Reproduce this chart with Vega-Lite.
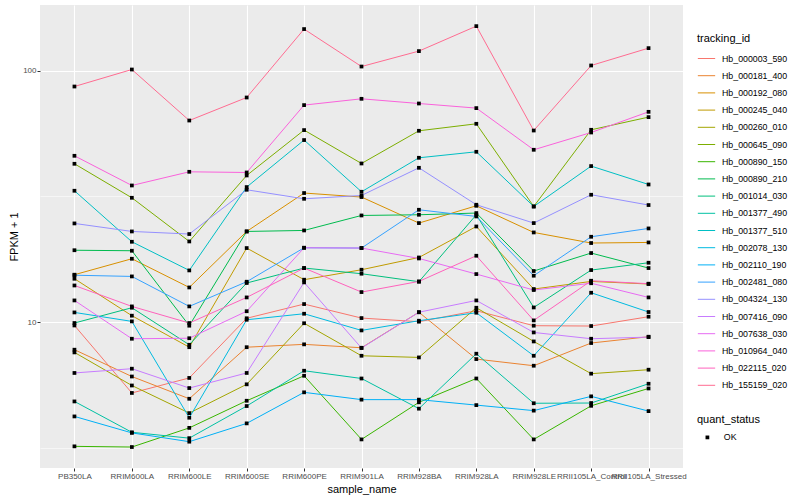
{
"$schema": "https://vega.github.io/schema/vega-lite/v6.json",
"width": 643,
"height": 463,
"autosize": {"type": "none"},
"padding": {"left": 40, "top": 5, "right": 117, "bottom": 32},
"background": "white",
"data": {"values": [
{"tracking_id":"Hb_000003_590","sample_name":"PB350LA","fpkm":9.69,"quant_status":"OK"},
{"tracking_id":"Hb_000003_590","sample_name":"RRIM600LA","fpkm":5.22,"quant_status":"OK"},
{"tracking_id":"Hb_000003_590","sample_name":"RRIM600LE","fpkm":5.99,"quant_status":"OK"},
{"tracking_id":"Hb_000003_590","sample_name":"RRIM600SE","fpkm":10.35,"quant_status":"OK"},
{"tracking_id":"Hb_000003_590","sample_name":"RRIM600PE","fpkm":11.79,"quant_status":"OK"},
{"tracking_id":"Hb_000003_590","sample_name":"RRIM901LA","fpkm":10.37,"quant_status":"OK"},
{"tracking_id":"Hb_000003_590","sample_name":"RRIM928BA","fpkm":10.03,"quant_status":"OK"},
{"tracking_id":"Hb_000003_590","sample_name":"RRIM928LA","fpkm":11.09,"quant_status":"OK"},
{"tracking_id":"Hb_000003_590","sample_name":"RRIM928LE","fpkm":9.67,"quant_status":"OK"},
{"tracking_id":"Hb_000003_590","sample_name":"RRII105LA_Control","fpkm":9.64,"quant_status":"OK"},
{"tracking_id":"Hb_000003_590","sample_name":"RRII105LA_Stressed","fpkm":10.50,"quant_status":"OK"},
{"tracking_id":"Hb_000181_400","sample_name":"PB350LA","fpkm":7.76,"quant_status":"OK"},
{"tracking_id":"Hb_000181_400","sample_name":"RRIM600LA","fpkm":6.07,"quant_status":"OK"},
{"tracking_id":"Hb_000181_400","sample_name":"RRIM600LE","fpkm":4.95,"quant_status":"OK"},
{"tracking_id":"Hb_000181_400","sample_name":"RRIM600SE","fpkm":7.94,"quant_status":"OK"},
{"tracking_id":"Hb_000181_400","sample_name":"RRIM600PE","fpkm":8.15,"quant_status":"OK"},
{"tracking_id":"Hb_000181_400","sample_name":"RRIM901LA","fpkm":7.90,"quant_status":"OK"},
{"tracking_id":"Hb_000181_400","sample_name":"RRIM928BA","fpkm":10.94,"quant_status":"OK"},
{"tracking_id":"Hb_000181_400","sample_name":"RRIM928LA","fpkm":7.12,"quant_status":"OK"},
{"tracking_id":"Hb_000181_400","sample_name":"RRIM928LE","fpkm":6.70,"quant_status":"OK"},
{"tracking_id":"Hb_000181_400","sample_name":"RRII105LA_Control","fpkm":8.25,"quant_status":"OK"},
{"tracking_id":"Hb_000181_400","sample_name":"RRII105LA_Stressed","fpkm":8.74,"quant_status":"OK"},
{"tracking_id":"Hb_000192_080","sample_name":"PB350LA","fpkm":15.43,"quant_status":"OK"},
{"tracking_id":"Hb_000192_080","sample_name":"RRIM600LA","fpkm":17.86,"quant_status":"OK"},
{"tracking_id":"Hb_000192_080","sample_name":"RRIM600LE","fpkm":13.73,"quant_status":"OK"},
{"tracking_id":"Hb_000192_080","sample_name":"RRIM600SE","fpkm":22.94,"quant_status":"OK"},
{"tracking_id":"Hb_000192_080","sample_name":"RRIM600PE","fpkm":32.62,"quant_status":"OK"},
{"tracking_id":"Hb_000192_080","sample_name":"RRIM901LA","fpkm":31.44,"quant_status":"OK"},
{"tracking_id":"Hb_000192_080","sample_name":"RRIM928BA","fpkm":24.77,"quant_status":"OK"},
{"tracking_id":"Hb_000192_080","sample_name":"RRIM928LA","fpkm":29.02,"quant_status":"OK"},
{"tracking_id":"Hb_000192_080","sample_name":"RRIM928LE","fpkm":22.73,"quant_status":"OK"},
{"tracking_id":"Hb_000192_080","sample_name":"RRII105LA_Control","fpkm":20.63,"quant_status":"OK"},
{"tracking_id":"Hb_000192_080","sample_name":"RRII105LA_Stressed","fpkm":20.74,"quant_status":"OK"},
{"tracking_id":"Hb_000245_040","sample_name":"PB350LA","fpkm":14.87,"quant_status":"OK"},
{"tracking_id":"Hb_000245_040","sample_name":"RRIM600LA","fpkm":10.60,"quant_status":"OK"},
{"tracking_id":"Hb_000245_040","sample_name":"RRIM600LE","fpkm":7.94,"quant_status":"OK"},
{"tracking_id":"Hb_000245_040","sample_name":"RRIM600SE","fpkm":19.70,"quant_status":"OK"},
{"tracking_id":"Hb_000245_040","sample_name":"RRIM600PE","fpkm":14.74,"quant_status":"OK"},
{"tracking_id":"Hb_000245_040","sample_name":"RRIM901LA","fpkm":16.15,"quant_status":"OK"},
{"tracking_id":"Hb_000245_040","sample_name":"RRIM928BA","fpkm":18.07,"quant_status":"OK"},
{"tracking_id":"Hb_000245_040","sample_name":"RRIM928LA","fpkm":24.01,"quant_status":"OK"},
{"tracking_id":"Hb_000245_040","sample_name":"RRIM928LE","fpkm":13.53,"quant_status":"OK"},
{"tracking_id":"Hb_000245_040","sample_name":"RRII105LA_Control","fpkm":14.51,"quant_status":"OK"},
{"tracking_id":"Hb_000245_040","sample_name":"RRII105LA_Stressed","fpkm":14.17,"quant_status":"OK"},
{"tracking_id":"Hb_000260_010","sample_name":"PB350LA","fpkm":7.57,"quant_status":"OK"},
{"tracking_id":"Hb_000260_010","sample_name":"RRIM600LA","fpkm":5.59,"quant_status":"OK"},
{"tracking_id":"Hb_000260_010","sample_name":"RRIM600LE","fpkm":4.34,"quant_status":"OK"},
{"tracking_id":"Hb_000260_010","sample_name":"RRIM600SE","fpkm":5.65,"quant_status":"OK"},
{"tracking_id":"Hb_000260_010","sample_name":"RRIM600PE","fpkm":9.89,"quant_status":"OK"},
{"tracking_id":"Hb_000260_010","sample_name":"RRIM901LA","fpkm":7.34,"quant_status":"OK"},
{"tracking_id":"Hb_000260_010","sample_name":"RRIM928BA","fpkm":7.23,"quant_status":"OK"},
{"tracking_id":"Hb_000260_010","sample_name":"RRIM928LA","fpkm":11.40,"quant_status":"OK"},
{"tracking_id":"Hb_000260_010","sample_name":"RRIM928LE","fpkm":8.37,"quant_status":"OK"},
{"tracking_id":"Hb_000260_010","sample_name":"RRII105LA_Control","fpkm":6.23,"quant_status":"OK"},
{"tracking_id":"Hb_000260_010","sample_name":"RRII105LA_Stressed","fpkm":6.46,"quant_status":"OK"},
{"tracking_id":"Hb_000645_090","sample_name":"PB350LA","fpkm":42.65,"quant_status":"OK"},
{"tracking_id":"Hb_000645_090","sample_name":"RRIM600LA","fpkm":31.23,"quant_status":"OK"},
{"tracking_id":"Hb_000645_090","sample_name":"RRIM600LE","fpkm":20.93,"quant_status":"OK"},
{"tracking_id":"Hb_000645_090","sample_name":"RRIM600SE","fpkm":38.32,"quant_status":"OK"},
{"tracking_id":"Hb_000645_090","sample_name":"RRIM600PE","fpkm":58.08,"quant_status":"OK"},
{"tracking_id":"Hb_000645_090","sample_name":"RRIM901LA","fpkm":42.77,"quant_status":"OK"},
{"tracking_id":"Hb_000645_090","sample_name":"RRIM928BA","fpkm":57.71,"quant_status":"OK"},
{"tracking_id":"Hb_000645_090","sample_name":"RRIM928LA","fpkm":61.53,"quant_status":"OK"},
{"tracking_id":"Hb_000645_090","sample_name":"RRIM928LE","fpkm":28.84,"quant_status":"OK"},
{"tracking_id":"Hb_000645_090","sample_name":"RRII105LA_Control","fpkm":58.24,"quant_status":"OK"},
{"tracking_id":"Hb_000645_090","sample_name":"RRII105LA_Stressed","fpkm":65.42,"quant_status":"OK"},
{"tracking_id":"Hb_000890_150","sample_name":"PB350LA","fpkm":3.20,"quant_status":"OK"},
{"tracking_id":"Hb_000890_150","sample_name":"RRIM600LA","fpkm":3.18,"quant_status":"OK"},
{"tracking_id":"Hb_000890_150","sample_name":"RRIM600LE","fpkm":3.79,"quant_status":"OK"},
{"tracking_id":"Hb_000890_150","sample_name":"RRIM600SE","fpkm":4.86,"quant_status":"OK"},
{"tracking_id":"Hb_000890_150","sample_name":"RRIM600PE","fpkm":6.11,"quant_status":"OK"},
{"tracking_id":"Hb_000890_150","sample_name":"RRIM901LA","fpkm":3.41,"quant_status":"OK"},
{"tracking_id":"Hb_000890_150","sample_name":"RRIM928BA","fpkm":4.79,"quant_status":"OK"},
{"tracking_id":"Hb_000890_150","sample_name":"RRIM928LA","fpkm":5.96,"quant_status":"OK"},
{"tracking_id":"Hb_000890_150","sample_name":"RRIM928LE","fpkm":3.41,"quant_status":"OK"},
{"tracking_id":"Hb_000890_150","sample_name":"RRII105LA_Control","fpkm":4.64,"quant_status":"OK"},
{"tracking_id":"Hb_000890_150","sample_name":"RRII105LA_Stressed","fpkm":5.44,"quant_status":"OK"},
{"tracking_id":"Hb_000890_210","sample_name":"PB350LA","fpkm":19.31,"quant_status":"OK"},
{"tracking_id":"Hb_000890_210","sample_name":"RRIM600LA","fpkm":19.22,"quant_status":"OK"},
{"tracking_id":"Hb_000890_210","sample_name":"RRIM600LE","fpkm":9.67,"quant_status":"OK"},
{"tracking_id":"Hb_000890_210","sample_name":"RRIM600SE","fpkm":22.94,"quant_status":"OK"},
{"tracking_id":"Hb_000890_210","sample_name":"RRIM600PE","fpkm":23.15,"quant_status":"OK"},
{"tracking_id":"Hb_000890_210","sample_name":"RRIM901LA","fpkm":26.56,"quant_status":"OK"},
{"tracking_id":"Hb_000890_210","sample_name":"RRIM928BA","fpkm":26.73,"quant_status":"OK"},
{"tracking_id":"Hb_000890_210","sample_name":"RRIM928LA","fpkm":27.15,"quant_status":"OK"},
{"tracking_id":"Hb_000890_210","sample_name":"RRIM928LE","fpkm":15.96,"quant_status":"OK"},
{"tracking_id":"Hb_000890_210","sample_name":"RRII105LA_Control","fpkm":18.82,"quant_status":"OK"},
{"tracking_id":"Hb_000890_210","sample_name":"RRII105LA_Stressed","fpkm":16.40,"quant_status":"OK"},
{"tracking_id":"Hb_001014_030","sample_name":"PB350LA","fpkm":9.91,"quant_status":"OK"},
{"tracking_id":"Hb_001014_030","sample_name":"RRIM600LA","fpkm":11.40,"quant_status":"OK"},
{"tracking_id":"Hb_001014_030","sample_name":"RRIM600LE","fpkm":8.12,"quant_status":"OK"},
{"tracking_id":"Hb_001014_030","sample_name":"RRIM600SE","fpkm":14.30,"quant_status":"OK"},
{"tracking_id":"Hb_001014_030","sample_name":"RRIM600PE","fpkm":16.40,"quant_status":"OK"},
{"tracking_id":"Hb_001014_030","sample_name":"RRIM901LA","fpkm":15.57,"quant_status":"OK"},
{"tracking_id":"Hb_001014_030","sample_name":"RRIM928BA","fpkm":14.47,"quant_status":"OK"},
{"tracking_id":"Hb_001014_030","sample_name":"RRIM928LA","fpkm":26.73,"quant_status":"OK"},
{"tracking_id":"Hb_001014_030","sample_name":"RRIM928LE","fpkm":11.43,"quant_status":"OK"},
{"tracking_id":"Hb_001014_030","sample_name":"RRII105LA_Control","fpkm":16.10,"quant_status":"OK"},
{"tracking_id":"Hb_001014_030","sample_name":"RRII105LA_Stressed","fpkm":17.22,"quant_status":"OK"},
{"tracking_id":"Hb_001377_490","sample_name":"PB350LA","fpkm":4.83,"quant_status":"OK"},
{"tracking_id":"Hb_001377_490","sample_name":"RRIM600LA","fpkm":3.64,"quant_status":"OK"},
{"tracking_id":"Hb_001377_490","sample_name":"RRIM600LE","fpkm":3.45,"quant_status":"OK"},
{"tracking_id":"Hb_001377_490","sample_name":"RRIM600SE","fpkm":4.63,"quant_status":"OK"},
{"tracking_id":"Hb_001377_490","sample_name":"RRIM600PE","fpkm":6.40,"quant_status":"OK"},
{"tracking_id":"Hb_001377_490","sample_name":"RRIM901LA","fpkm":5.96,"quant_status":"OK"},
{"tracking_id":"Hb_001377_490","sample_name":"RRIM928BA","fpkm":4.52,"quant_status":"OK"},
{"tracking_id":"Hb_001377_490","sample_name":"RRIM928LA","fpkm":7.48,"quant_status":"OK"},
{"tracking_id":"Hb_001377_490","sample_name":"RRIM928LE","fpkm":4.75,"quant_status":"OK"},
{"tracking_id":"Hb_001377_490","sample_name":"RRII105LA_Control","fpkm":4.76,"quant_status":"OK"},
{"tracking_id":"Hb_001377_490","sample_name":"RRII105LA_Stressed","fpkm":5.68,"quant_status":"OK"},
{"tracking_id":"Hb_001377_510","sample_name":"PB350LA","fpkm":33.31,"quant_status":"OK"},
{"tracking_id":"Hb_001377_510","sample_name":"RRIM600LA","fpkm":20.87,"quant_status":"OK"},
{"tracking_id":"Hb_001377_510","sample_name":"RRIM600LE","fpkm":16.05,"quant_status":"OK"},
{"tracking_id":"Hb_001377_510","sample_name":"RRIM600SE","fpkm":34.45,"quant_status":"OK"},
{"tracking_id":"Hb_001377_510","sample_name":"RRIM600PE","fpkm":53.01,"quant_status":"OK"},
{"tracking_id":"Hb_001377_510","sample_name":"RRIM901LA","fpkm":33.00,"quant_status":"OK"},
{"tracking_id":"Hb_001377_510","sample_name":"RRIM928BA","fpkm":45.06,"quant_status":"OK"},
{"tracking_id":"Hb_001377_510","sample_name":"RRIM928LA","fpkm":47.61,"quant_status":"OK"},
{"tracking_id":"Hb_001377_510","sample_name":"RRIM928LE","fpkm":28.84,"quant_status":"OK"},
{"tracking_id":"Hb_001377_510","sample_name":"RRII105LA_Control","fpkm":41.76,"quant_status":"OK"},
{"tracking_id":"Hb_001377_510","sample_name":"RRII105LA_Stressed","fpkm":35.28,"quant_status":"OK"},
{"tracking_id":"Hb_002078_130","sample_name":"PB350LA","fpkm":10.92,"quant_status":"OK"},
{"tracking_id":"Hb_002078_130","sample_name":"RRIM600LA","fpkm":10.06,"quant_status":"OK"},
{"tracking_id":"Hb_002078_130","sample_name":"RRIM600LE","fpkm":4.16,"quant_status":"OK"},
{"tracking_id":"Hb_002078_130","sample_name":"RRIM600SE","fpkm":10.21,"quant_status":"OK"},
{"tracking_id":"Hb_002078_130","sample_name":"RRIM600PE","fpkm":10.79,"quant_status":"OK"},
{"tracking_id":"Hb_002078_130","sample_name":"RRIM901LA","fpkm":9.26,"quant_status":"OK"},
{"tracking_id":"Hb_002078_130","sample_name":"RRIM928BA","fpkm":10.12,"quant_status":"OK"},
{"tracking_id":"Hb_002078_130","sample_name":"RRIM928LA","fpkm":10.89,"quant_status":"OK"},
{"tracking_id":"Hb_002078_130","sample_name":"RRIM928LE","fpkm":7.34,"quant_status":"OK"},
{"tracking_id":"Hb_002078_130","sample_name":"RRII105LA_Control","fpkm":13.08,"quant_status":"OK"},
{"tracking_id":"Hb_002078_130","sample_name":"RRII105LA_Stressed","fpkm":10.96,"quant_status":"OK"},
{"tracking_id":"Hb_002110_190","sample_name":"PB350LA","fpkm":4.21,"quant_status":"OK"},
{"tracking_id":"Hb_002110_190","sample_name":"RRIM600LA","fpkm":3.62,"quant_status":"OK"},
{"tracking_id":"Hb_002110_190","sample_name":"RRIM600LE","fpkm":3.34,"quant_status":"OK"},
{"tracking_id":"Hb_002110_190","sample_name":"RRIM600SE","fpkm":3.95,"quant_status":"OK"},
{"tracking_id":"Hb_002110_190","sample_name":"RRIM600PE","fpkm":5.25,"quant_status":"OK"},
{"tracking_id":"Hb_002110_190","sample_name":"RRIM901LA","fpkm":4.91,"quant_status":"OK"},
{"tracking_id":"Hb_002110_190","sample_name":"RRIM928BA","fpkm":4.91,"quant_status":"OK"},
{"tracking_id":"Hb_002110_190","sample_name":"RRIM928LA","fpkm":4.67,"quant_status":"OK"},
{"tracking_id":"Hb_002110_190","sample_name":"RRIM928LE","fpkm":4.44,"quant_status":"OK"},
{"tracking_id":"Hb_002110_190","sample_name":"RRII105LA_Control","fpkm":5.06,"quant_status":"OK"},
{"tracking_id":"Hb_002110_190","sample_name":"RRII105LA_Stressed","fpkm":4.42,"quant_status":"OK"},
{"tracking_id":"Hb_002481_080","sample_name":"PB350LA","fpkm":15.36,"quant_status":"OK"},
{"tracking_id":"Hb_002481_080","sample_name":"RRIM600LA","fpkm":15.19,"quant_status":"OK"},
{"tracking_id":"Hb_002481_080","sample_name":"RRIM600LE","fpkm":11.54,"quant_status":"OK"},
{"tracking_id":"Hb_002481_080","sample_name":"RRIM600SE","fpkm":14.47,"quant_status":"OK"},
{"tracking_id":"Hb_002481_080","sample_name":"RRIM600PE","fpkm":19.75,"quant_status":"OK"},
{"tracking_id":"Hb_002481_080","sample_name":"RRIM901LA","fpkm":19.70,"quant_status":"OK"},
{"tracking_id":"Hb_002481_080","sample_name":"RRIM928BA","fpkm":27.98,"quant_status":"OK"},
{"tracking_id":"Hb_002481_080","sample_name":"RRIM928LA","fpkm":26.32,"quant_status":"OK"},
{"tracking_id":"Hb_002481_080","sample_name":"RRIM928LE","fpkm":15.29,"quant_status":"OK"},
{"tracking_id":"Hb_002481_080","sample_name":"RRII105LA_Control","fpkm":21.85,"quant_status":"OK"},
{"tracking_id":"Hb_002481_080","sample_name":"RRII105LA_Stressed","fpkm":23.58,"quant_status":"OK"},
{"tracking_id":"Hb_004324_130","sample_name":"PB350LA","fpkm":24.69,"quant_status":"OK"},
{"tracking_id":"Hb_004324_130","sample_name":"RRIM600LA","fpkm":22.94,"quant_status":"OK"},
{"tracking_id":"Hb_004324_130","sample_name":"RRIM600LE","fpkm":22.40,"quant_status":"OK"},
{"tracking_id":"Hb_004324_130","sample_name":"RRIM600SE","fpkm":33.61,"quant_status":"OK"},
{"tracking_id":"Hb_004324_130","sample_name":"RRIM600PE","fpkm":30.94,"quant_status":"OK"},
{"tracking_id":"Hb_004324_130","sample_name":"RRIM901LA","fpkm":31.90,"quant_status":"OK"},
{"tracking_id":"Hb_004324_130","sample_name":"RRIM928BA","fpkm":41.11,"quant_status":"OK"},
{"tracking_id":"Hb_004324_130","sample_name":"RRIM928LA","fpkm":29.30,"quant_status":"OK"},
{"tracking_id":"Hb_004324_130","sample_name":"RRIM928LE","fpkm":24.77,"quant_status":"OK"},
{"tracking_id":"Hb_004324_130","sample_name":"RRII105LA_Control","fpkm":32.11,"quant_status":"OK"},
{"tracking_id":"Hb_004324_130","sample_name":"RRII105LA_Stressed","fpkm":29.22,"quant_status":"OK"},
{"tracking_id":"Hb_007416_090","sample_name":"PB350LA","fpkm":6.27,"quant_status":"OK"},
{"tracking_id":"Hb_007416_090","sample_name":"RRIM600LA","fpkm":6.52,"quant_status":"OK"},
{"tracking_id":"Hb_007416_090","sample_name":"RRIM600LE","fpkm":5.46,"quant_status":"OK"},
{"tracking_id":"Hb_007416_090","sample_name":"RRIM600SE","fpkm":6.27,"quant_status":"OK"},
{"tracking_id":"Hb_007416_090","sample_name":"RRIM600PE","fpkm":14.38,"quant_status":"OK"},
{"tracking_id":"Hb_007416_090","sample_name":"RRIM901LA","fpkm":7.88,"quant_status":"OK"},
{"tracking_id":"Hb_007416_090","sample_name":"RRIM928BA","fpkm":10.94,"quant_status":"OK"},
{"tracking_id":"Hb_007416_090","sample_name":"RRIM928LA","fpkm":12.19,"quant_status":"OK"},
{"tracking_id":"Hb_007416_090","sample_name":"RRIM928LE","fpkm":9.09,"quant_status":"OK"},
{"tracking_id":"Hb_007416_090","sample_name":"RRII105LA_Control","fpkm":8.58,"quant_status":"OK"},
{"tracking_id":"Hb_007416_090","sample_name":"RRII105LA_Stressed","fpkm":8.71,"quant_status":"OK"},
{"tracking_id":"Hb_007638_030","sample_name":"PB350LA","fpkm":12.19,"quant_status":"OK"},
{"tracking_id":"Hb_007638_030","sample_name":"RRIM600LA","fpkm":8.58,"quant_status":"OK"},
{"tracking_id":"Hb_007638_030","sample_name":"RRIM600LE","fpkm":8.62,"quant_status":"OK"},
{"tracking_id":"Hb_007638_030","sample_name":"RRIM600SE","fpkm":11.04,"quant_status":"OK"},
{"tracking_id":"Hb_007638_030","sample_name":"RRIM600PE","fpkm":19.75,"quant_status":"OK"},
{"tracking_id":"Hb_007638_030","sample_name":"RRIM901LA","fpkm":19.70,"quant_status":"OK"},
{"tracking_id":"Hb_007638_030","sample_name":"RRIM928BA","fpkm":17.91,"quant_status":"OK"},
{"tracking_id":"Hb_007638_030","sample_name":"RRIM928LA","fpkm":15.52,"quant_status":"OK"},
{"tracking_id":"Hb_007638_030","sample_name":"RRIM928LE","fpkm":13.41,"quant_status":"OK"},
{"tracking_id":"Hb_007638_030","sample_name":"RRII105LA_Control","fpkm":14.27,"quant_status":"OK"},
{"tracking_id":"Hb_007638_030","sample_name":"RRII105LA_Stressed","fpkm":12.53,"quant_status":"OK"},
{"tracking_id":"Hb_010964_040","sample_name":"PB350LA","fpkm":45.89,"quant_status":"OK"},
{"tracking_id":"Hb_010964_040","sample_name":"RRIM600LA","fpkm":34.96,"quant_status":"OK"},
{"tracking_id":"Hb_010964_040","sample_name":"RRIM600LE","fpkm":39.63,"quant_status":"OK"},
{"tracking_id":"Hb_010964_040","sample_name":"RRIM600SE","fpkm":39.38,"quant_status":"OK"},
{"tracking_id":"Hb_010964_040","sample_name":"RRIM600PE","fpkm":73.03,"quant_status":"OK"},
{"tracking_id":"Hb_010964_040","sample_name":"RRIM901LA","fpkm":77.37,"quant_status":"OK"},
{"tracking_id":"Hb_010964_040","sample_name":"RRIM928BA","fpkm":74.11,"quant_status":"OK"},
{"tracking_id":"Hb_010964_040","sample_name":"RRIM928LA","fpkm":71.05,"quant_status":"OK"},
{"tracking_id":"Hb_010964_040","sample_name":"RRIM928LE","fpkm":48.49,"quant_status":"OK"},
{"tracking_id":"Hb_010964_040","sample_name":"RRII105LA_Control","fpkm":56.82,"quant_status":"OK"},
{"tracking_id":"Hb_010964_040","sample_name":"RRII105LA_Stressed","fpkm":68.67,"quant_status":"OK"},
{"tracking_id":"Hb_022115_020","sample_name":"PB350LA","fpkm":13.98,"quant_status":"OK"},
{"tracking_id":"Hb_022115_020","sample_name":"RRIM600LA","fpkm":11.54,"quant_status":"OK"},
{"tracking_id":"Hb_022115_020","sample_name":"RRIM600LE","fpkm":9.91,"quant_status":"OK"},
{"tracking_id":"Hb_022115_020","sample_name":"RRIM600SE","fpkm":12.53,"quant_status":"OK"},
{"tracking_id":"Hb_022115_020","sample_name":"RRIM600PE","fpkm":16.40,"quant_status":"OK"},
{"tracking_id":"Hb_022115_020","sample_name":"RRIM901LA","fpkm":13.16,"quant_status":"OK"},
{"tracking_id":"Hb_022115_020","sample_name":"RRIM928BA","fpkm":14.51,"quant_status":"OK"},
{"tracking_id":"Hb_022115_020","sample_name":"RRIM928LA","fpkm":18.36,"quant_status":"OK"},
{"tracking_id":"Hb_022115_020","sample_name":"RRIM928LE","fpkm":10.15,"quant_status":"OK"},
{"tracking_id":"Hb_022115_020","sample_name":"RRII105LA_Control","fpkm":14.60,"quant_status":"OK"},
{"tracking_id":"Hb_022115_020","sample_name":"RRII105LA_Stressed","fpkm":14.21,"quant_status":"OK"},
{"tracking_id":"Hb_155159_020","sample_name":"PB350LA","fpkm":86.6,"quant_status":"OK"},
{"tracking_id":"Hb_155159_020","sample_name":"RRIM600LA","fpkm":101.2,"quant_status":"OK"},
{"tracking_id":"Hb_155159_020","sample_name":"RRIM600LE","fpkm":63.41,"quant_status":"OK"},
{"tracking_id":"Hb_155159_020","sample_name":"RRIM600SE","fpkm":78.3,"quant_status":"OK"},
{"tracking_id":"Hb_155159_020","sample_name":"RRIM600PE","fpkm":146.6,"quant_status":"OK"},
{"tracking_id":"Hb_155159_020","sample_name":"RRIM901LA","fpkm":104.0,"quant_status":"OK"},
{"tracking_id":"Hb_155159_020","sample_name":"RRIM928BA","fpkm":119.8,"quant_status":"OK"},
{"tracking_id":"Hb_155159_020","sample_name":"RRIM928LA","fpkm":150.6,"quant_status":"OK"},
{"tracking_id":"Hb_155159_020","sample_name":"RRIM928LE","fpkm":57.86,"quant_status":"OK"},
{"tracking_id":"Hb_155159_020","sample_name":"RRII105LA_Control","fpkm":105.0,"quant_status":"OK"},
{"tracking_id":"Hb_155159_020","sample_name":"RRII105LA_Stressed","fpkm":123.1,"quant_status":"OK"}
]},
"encoding": {
  "x": {
    "field": "sample_name", "type": "nominal", "title": "sample_name",
    "sort": ["PB350LA","RRIM600LA","RRIM600LE","RRIM600SE","RRIM600PE","RRIM901LA","RRIM928BA","RRIM928LA","RRIM928LE","RRII105LA_Control","RRII105LA_Stressed"],
    "scale": {"type": "point", "padding": 0.6},
    "axis": {"labelAngle": 0, "domain": false, "grid": true, "gridColor": "white", "gridWidth": 1.1, "tickColor": "#333333", "tickSize": 3, "tickWidth": 1, "labelColor": "#4D4D4D", "labelFontSize": 8, "labelPadding": 1, "labelOverlap": false, "labelBound": false, "labelFlush": false, "labelLimit": 0, "titlePadding": 3, "titleFontSize": 11, "titleColor": "black", "titleFontWeight": "normal"}
  },
  "y": {
    "field": "fpkm", "type": "quantitative", "title": "FPKM + 1",
    "scale": {"type": "log", "domain": [2.624, 182.8], "nice": false},
    "axis": {"values": [3.1623, 10, 31.623, 100], "labelExpr": "datum.value == 10 ? '10' : (datum.value == 100 ? '100' : '')", "domain": false, "grid": true, "gridColor": "white", "gridWidth": {"condition": {"test": "datum.value == 10 || datum.value == 100", "value": 1.1}, "value": 0.55}, "tickOpacity": {"condition": {"test": "datum.value == 10 || datum.value == 100", "value": 1}, "value": 0}, "tickColor": "#333333", "tickSize": 3, "tickWidth": 1, "labelColor": "#4D4D4D", "labelFontSize": 8, "labelPadding": 1, "titlePadding": 3, "titleFontSize": 11, "titleColor": "black", "titleFontWeight": "normal"}
  }
},
"layer": [
  {
    "mark": {"type": "line", "strokeWidth": 1},
    "encoding": {
      "color": {
        "field": "tracking_id", "type": "nominal", "title": "tracking_id",
        "scale": {
          "domain": ["Hb_000003_590","Hb_000181_400","Hb_000192_080","Hb_000245_040","Hb_000260_010","Hb_000645_090","Hb_000890_150","Hb_000890_210","Hb_001014_030","Hb_001377_490","Hb_001377_510","Hb_002078_130","Hb_002110_190","Hb_002481_080","Hb_004324_130","Hb_007416_090","Hb_007638_030","Hb_010964_040","Hb_022115_020","Hb_155159_020"],
          "range": ["#F8766D","#EA8331","#D89000","#C09B00","#A3A500","#7CAE00","#39B600","#00BB4E","#00BF7D","#00C1A3","#00BFC4","#00BAE0","#00B0F6","#35A2FF","#9590FF","#C77CFF","#E76BF3","#FA62DB","#FF62BC","#FF6C91"]
        },
        "legend": {"orient": "none", "legendX": 657, "legendY": 28, "padding": 0, "symbolType": "stroke", "symbolSize": 300, "symbolStrokeWidth": 1, "rowPadding": 2.2, "labelFontSize": 8.8, "labelColor": "black", "labelOffset": 6, "titleFontSize": 11, "titleFontWeight": "normal", "titleColor": "black", "titlePadding": 5}
      }
    }
  },
  {
    "mark": {"type": "point", "filled": true, "size": 14, "opacity": 1},
    "encoding": {
      "color": {"value": "black"},
      "shape": {
        "field": "quant_status", "type": "nominal", "title": "quant_status",
        "scale": {"range": ["square"]},
        "legend": {"orient": "none", "legendX": 657, "legendY": 409, "padding": 0, "symbolSize": 14, "symbolFillColor": "black", "symbolStrokeColor": "black", "symbolOffset": 6, "rowPadding": 0, "labelFontSize": 8.8, "labelColor": "black", "labelOffset": 12, "titleFontSize": 11, "titleFontWeight": "normal", "titleColor": "black", "titlePadding": 8}
      }
    }
  }
],
"config": {
  "font": "Liberation Sans",
  "view": {"fill": "#EBEBEB", "stroke": null}
}
}
